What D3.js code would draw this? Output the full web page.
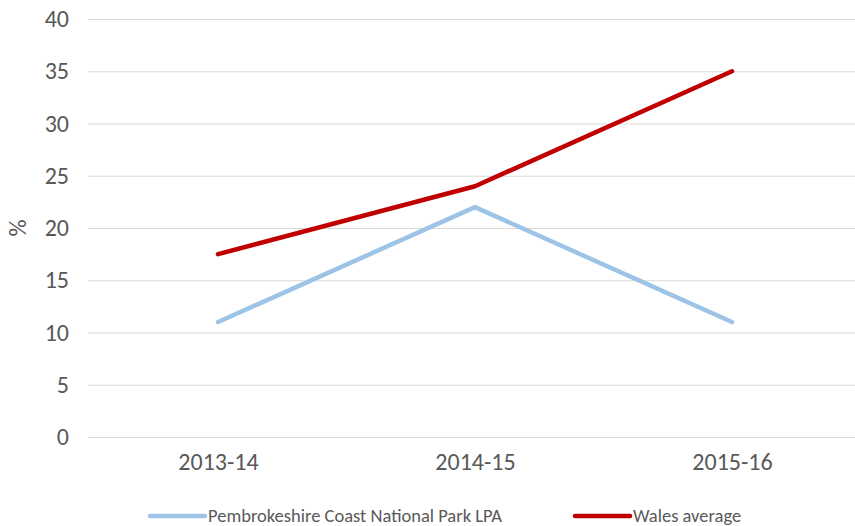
<!DOCTYPE html>
<html>
<head>
<meta charset="utf-8">
<script src="https://cdn.jsdelivr.net/npm/d3@7"></script>
<style>
  body { margin: 0; background: #fff; }
  text { font-family: Carlito, Calibri, Lato, sans-serif; }
</style>
</head>
<body>
<div id="chart"></div>
<script>
var years = ["2013-14", "2014-15", "2015-16"];
var pembrokeshire = [11, 22, 11];
var wales = [17.5, 24, 35];
var yTicks = [0, 5, 10, 15, 20, 25, 30, 35, 40];
var seriesNames = ["Pembrokeshire Coast National Park LPA", "Wales average"];
var seriesColors = ["#9DC3E6", "#C00000"];

var width = 855, height = 526;
var fontFam = "Carlito, Calibri, Lato, sans-serif";

var svg = d3.select("#chart")
    .append("svg")
    .attr("width", width)
    .attr("height", height);

var x = d3.scalePoint()
    .domain(years)
    .range([218, 732]);

var y = d3.scaleLinear()
    .domain([0, 40])
    .range([437, 19]);

// gridlines
svg.append("g")
    .selectAll("line")
    .data(yTicks)
    .enter()
    .append("line")
    .attr("x1", 88)
    .attr("x2", 858)
    .attr("y1", function(d) { return y(d) + 0.5; })
    .attr("y2", function(d) { return y(d) + 0.5; })
    .style("stroke", "#d9d9d9")
    .style("stroke-width", 1);

// y axis labels
var yAxis = svg.append("g")
    .attr("transform", "translate(69,0)")
    .call(d3.axisLeft(y).tickValues(yTicks).tickSize(0).tickPadding(0));
yAxis.select(".domain").remove();
yAxis.selectAll("text")
    .style("font-size", "24px")
    .style("fill", "#595959")
    .style("font-family", fontFam);

// x axis labels
var xAxis = svg.append("g")
    .attr("transform", "translate(0,453)")
    .call(d3.axisBottom(x).tickSize(0).tickPadding(0));
xAxis.select(".domain").remove();
xAxis.selectAll("text")
    .style("font-size", "24px")
    .style("fill", "#595959")
    .style("font-family", fontFam);

// y title
svg.append("text")
    .attr("transform", "translate(26,228) rotate(-90)")
    .style("text-anchor", "middle")
    .style("font-size", "24px")
    .style("fill", "#595959")
    .text("%");

var line = d3.line()
    .x(function(d, i) { return x(years[i]); })
    .y(function(d) { return y(d); });

[pembrokeshire, wales].forEach(function(s, i) {
    svg.append("path")
        .datum(s)
        .attr("d", line)
        .style("fill", "none")
        .style("stroke", seriesColors[i])
        .style("stroke-width", 4.5)
        .style("stroke-linecap", "round")
        .style("stroke-linejoin", "round");
});

// legend
var legendX = [150, 575];
seriesNames.forEach(function(name, i) {
    var g = svg.append("g").attr("transform", "translate(" + legendX[i] + ",516)");
    g.append("line")
        .attr("x1", 0).attr("x2", 55)
        .attr("y1", 0).attr("y2", 0)
        .style("stroke", seriesColors[i])
        .style("stroke-width", 4.5)
        .style("stroke-linecap", "round");
    g.append("text")
        .attr("x", 58)
        .attr("y", 6)
        .style("font-size", "18.5px")
        .style("fill", "#595959")
        .text(name);
});
</script>
</body>
</html>
